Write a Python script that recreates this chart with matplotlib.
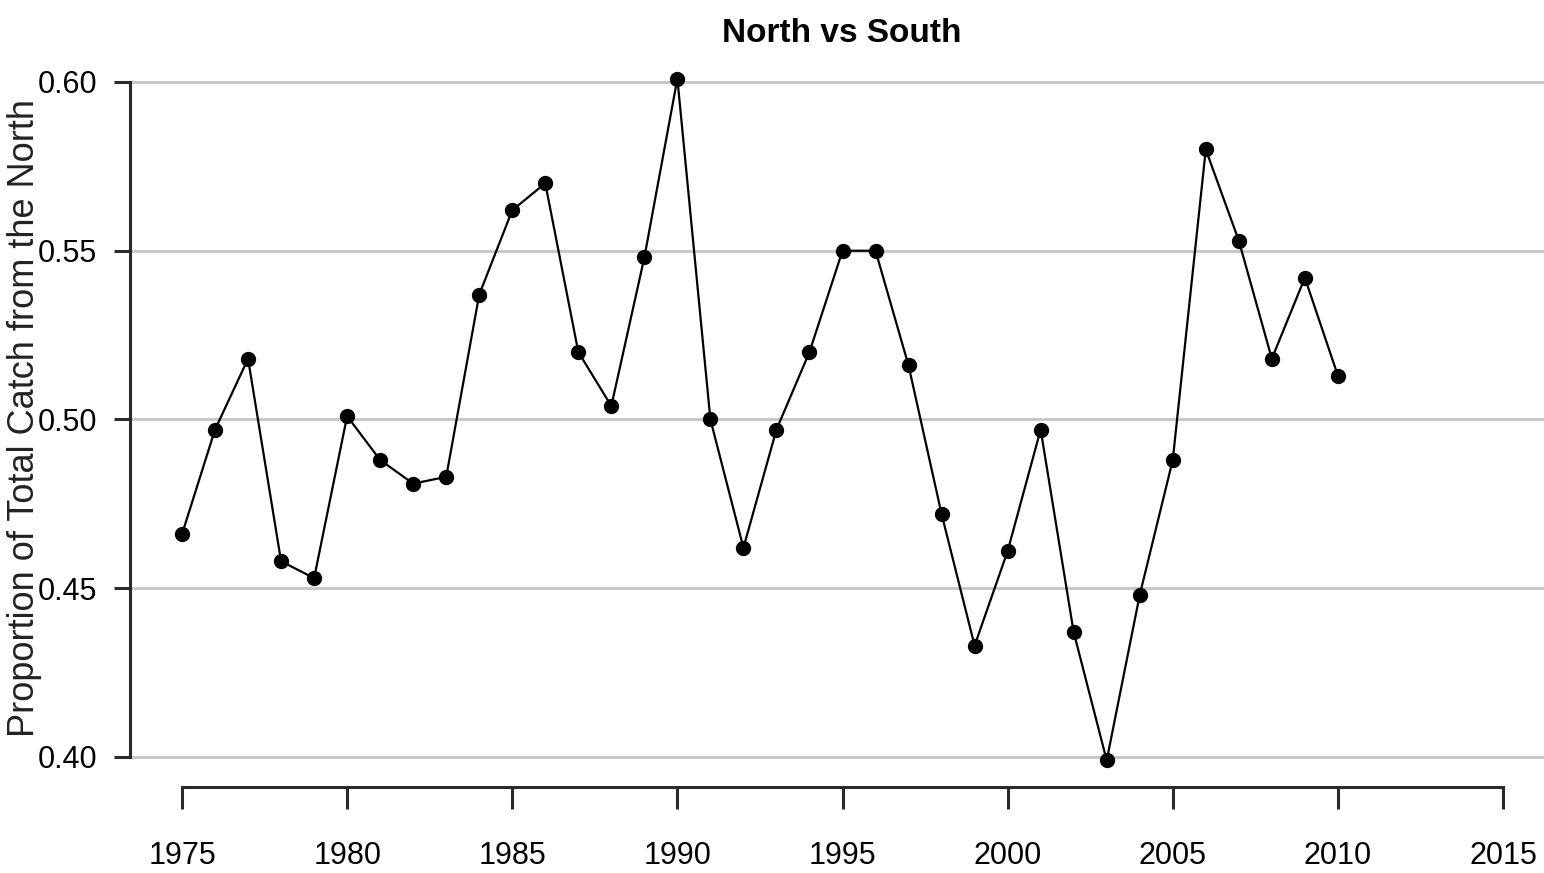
import matplotlib
matplotlib.use("Agg")
import matplotlib.pyplot as plt

# data
years = list(range(1975, 2011))
proportion = [0.466, 0.497, 0.518, 0.458, 0.453, 0.501, 0.488, 0.481, 0.483, 0.537,
              0.562, 0.570, 0.520, 0.504, 0.548, 0.601, 0.500, 0.462, 0.497, 0.520,
              0.550, 0.550, 0.516, 0.472, 0.433, 0.461, 0.497, 0.437, 0.399, 0.448,
              0.488, 0.580, 0.553, 0.518, 0.542, 0.513]
xticks = [1975, 1980, 1985, 1990, 1995, 2000, 2005, 2010, 2015]
yticks = [0.40, 0.45, 0.50, 0.55, 0.60]
ytick_labels = ["0.40", "0.45", "0.50", "0.55", "0.60"]

narrow = ["Liberation Sans Narrow", "Liberation Sans", "DejaVu Sans"]
regular = ["Liberation Sans", "DejaVu Sans"]

W, H = 1544, 873
fig = plt.figure(figsize=(W / 100, H / 100), dpi=100)

# axes box in pixels: left 130, right 1544, top 60, bottom 787
ax = fig.add_axes([130 / W, 1 - 787 / H, (W - 130) / W, (787 - 60) / H])

# scale: 1975 -> px 182, 2015 -> px 1503; 0.60 -> px 82, 0.40 -> px 757
px_per_year = (1503 - 182) / 40
px_per_unit = (757 - 82) / 0.20
ax.set_xlim(1975 - (182 - 130) / px_per_year, 1975 + (W - 182) / px_per_year)
ax.set_ylim(0.40 - (787 - 757) / px_per_unit, 0.60 + (82 - 60) / px_per_unit)

for y in yticks:
    ax.axhline(y, color="#c8c8c8", lw=2.2, zorder=1)

ax.plot(years, proportion, color="black", lw=1.6, marker="o", markersize=10,
        zorder=3, clip_on=False)

for s in ["top", "right"]:
    ax.spines[s].set_visible(False)
ax.spines["left"].set_bounds(0.40, 0.60)
ax.spines["bottom"].set_bounds(1975, 2015)
for s in ["left", "bottom"]:
    ax.spines[s].set_linewidth(2.2)
    ax.spines[s].set_color("#2a2a2a")

ax.set_xticks(xticks)
ax.set_xticklabels([str(x) for x in xticks], fontfamily=narrow, fontsize=22)
ax.set_yticks(yticks)
ax.set_yticklabels(ytick_labels, fontfamily=narrow, fontsize=22)
ax.tick_params(axis="x", length=16, width=2.2, color="#2a2a2a", pad=23)
ax.tick_params(axis="y", length=11.5, width=2.2, color="#2a2a2a", pad=12)

fig.text(842 / W, 1 - 33 / H, "North vs South", ha="center", va="center",
         fontfamily=narrow, fontweight="bold", fontsize=24)
fig.text(25 / W, 1 - 418 / H, "Proportion of Total Catch from the North",
         rotation=90, ha="center", va="center", fontfamily=regular, fontsize=26,
         color="#222222")

fig.savefig("out.png", dpi=100)
